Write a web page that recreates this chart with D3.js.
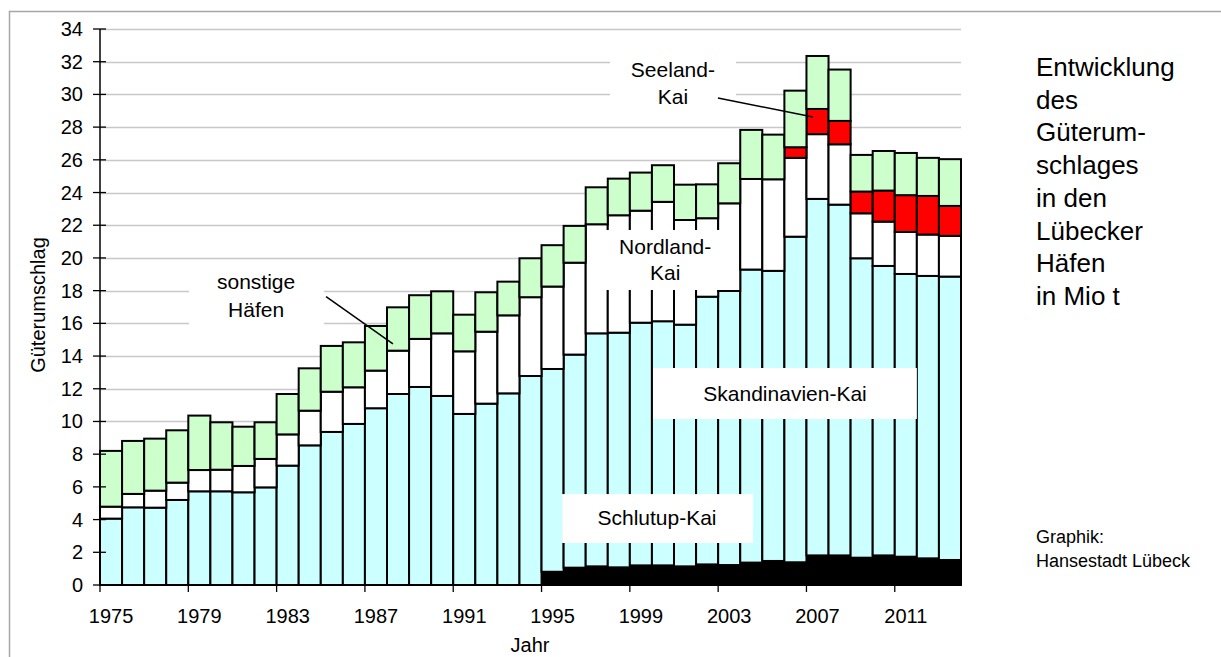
<!DOCTYPE html>
<html><head><meta charset="utf-8">
<script src="https://cdn.jsdelivr.net/npm/d3@7"></script>
<style>
html,body{margin:0;padding:0;background:#fff;}
svg{display:block;font-family:"Liberation Sans",Arial,sans-serif;}
</style></head>
<body>
<svg id="chart" width="1221" height="657"></svg>
<script>
// ---- data (Mio t) ----
const years = d3.range(1975, 2014);
const schlutup = [0,0,0,0,0,0,0,0,0,0,0,0,0,0,0,0,0,0,0,0,
  0.81,1.06,1.14,1.08,1.20,1.20,1.14,1.26,1.22,1.37,1.47,1.39,1.81,1.81,1.67,1.81,1.73,1.63,1.53];
const skandinavien = [4.06,4.75,4.73,5.20,5.73,5.73,5.67,5.97,7.30,8.54,9.36,9.85,10.81,11.68,12.11,11.56,10.46,11.09,11.72,12.78,
  12.40,13.03,14.25,14.35,14.84,14.93,14.78,16.37,16.76,17.92,17.74,19.91,21.80,21.45,18.31,17.70,17.29,17.27,17.33];
const nordland = [0.73,0.82,1.04,1.06,1.30,1.32,1.61,1.74,1.91,2.12,2.46,2.24,2.30,2.65,2.94,3.83,3.83,4.40,4.77,4.82,
  5.04,5.62,6.67,7.18,6.85,7.30,6.40,4.80,5.36,5.54,5.60,4.82,3.96,3.69,2.75,2.71,2.57,2.53,2.49];
const seeland = [0,0,0,0,0,0,0,0,0,0,0,0,0,0,0,0,0,0,0,0,
  0,0,0,0,0,0,0,0,0,0,0,0.65,1.54,1.43,1.33,1.90,2.25,2.36,1.83];
const sonstige = [3.41,3.24,3.18,3.20,3.33,2.90,2.40,2.24,2.47,2.59,2.80,2.75,2.73,2.65,2.67,2.57,2.24,2.41,2.06,2.38,
  2.53,2.25,2.26,2.24,2.33,2.24,2.16,2.07,2.45,3.00,2.73,3.46,3.24,3.14,2.24,2.42,2.58,2.33,2.86];
const seriesKeys = ["Schlutup","Skandinavien","Nordland","Seeland","sonstige"];
const seriesColors = ["#000000","#CCFFFF","#FFFFFF","#FF0000","#CCFFCC"];
const yTicks = d3.range(0, 35, 2);
const xTickYears = [1975,1979,1983,1987,1991,1995,1999,2003,2007,2011];
const titleLines = ["Entwicklung","des","Güterum-","schlages","in den","Lübecker","Häfen","in Mio t"];
const creditLines = ["Graphik:","Hansestadt Lübeck"];
// annotation labels in data units: box [x0,x1,yTop,yBottom], text lines, text centre, leader line
const annotations = [
  {box:[1979.03,1985.15,19.75,15.6], lines:["sonstige","Häfen"], cx:1982.07, cy:[18.53,16.82], leader:[1985.24,17.63,1988.27,14.74]},
  {box:[1998.1,2003.81,33.0,28.74], lines:["Seeland-","Kai"], cx:2000.95, cy:[31.55,29.9], leader:[2002.99,29.78,2007.3,28.62]},
  {box:[1997.06,2003.94,21.71,18.04], lines:["Nordland-","Kai"], cx:2000.6, cy:[20.73,19.08]},
  {box:[2000.05,2012.0,13.27,10.15], lines:["Skandinavien-Kai"], cx:2006.03, cy:[11.74]},
  {box:[1995.93,2004.58,5.56,2.57], lines:["Schlutup-Kai"], cx:2000.23, cy:[4.1]}
];

const rows = years.map((y,i)=>({year:y, Schlutup:schlutup[i], Skandinavien:skandinavien[i],
  Nordland:nordland[i], Seeland:seeland[i], sonstige:sonstige[i]}));

const svg = d3.select("#chart");
const L=100, R=961, T=29, B=585;
const x = d3.scaleBand().domain(years).range([L,R]).padding(0);
const xl = d3.scaleLinear().domain([1975,2014]).range([L,R]);
const y = d3.scaleLinear().domain([0,34]).range([B,T]);

// outer frame
svg.append("rect").attr("x",9.5).attr("y",11.5).attr("width",1240).attr("height",700)
  .attr("fill","none").attr("stroke","#A6A6A6").attr("stroke-width",1.5);

// gridlines
svg.append("g").selectAll("line").data(yTicks.filter(d=>d>0)).join("line")
  .attr("x1",L).attr("x2",R).attr("y1",d=>Math.round(y(d))+0.5).attr("y2",d=>Math.round(y(d))+0.5)
  .attr("stroke","#C8C8C8").attr("stroke-width",1.3);

// bars
const stack = d3.stack().keys(seriesKeys)(rows);
const gBars = svg.append("g");
stack.forEach((s,si)=>{
  gBars.append("g").selectAll("rect").data(s.filter(d=>d[1]-d[0]>0)).join("rect")
    .attr("x",d=>x(d.data.year)).attr("width",x.bandwidth())
    .attr("y",d=>y(d[1])).attr("height",d=>y(d[0])-y(d[1]))
    .attr("fill",seriesColors[si]).attr("stroke","#000").attr("stroke-width",2);
});

// annotation boxes, leaders and text
const gAnn = svg.append("g");
annotations.forEach(a=>{
  gAnn.append("rect").attr("x",xl(a.box[0])).attr("width",xl(a.box[1])-xl(a.box[0]))
    .attr("y",y(a.box[2])).attr("height",y(a.box[3])-y(a.box[2])).attr("fill","#fff");
  if(a.leader){
    gAnn.append("line").attr("x1",xl(a.leader[0])).attr("y1",y(a.leader[1]))
      .attr("x2",xl(a.leader[2])).attr("y2",y(a.leader[3])).attr("stroke","#000").attr("stroke-width",1.5);
  }
  a.lines.forEach((t,i)=>{
    gAnn.append("text").attr("x",xl(a.cx)).attr("y",y(a.cy[i])).attr("text-anchor","middle")
      .attr("dominant-baseline","central").attr("font-size",21).attr("fill","#000").text(t);
  });
});

// y axis
const yAxis = svg.append("g");
yAxis.append("line").attr("x1",L).attr("x2",L).attr("y1",T).attr("y2",B).attr("stroke","#000").attr("stroke-width",1.5);
yAxis.selectAll("line.t").data(yTicks).join("line").attr("class","t")
  .attr("x1",L-7).attr("x2",L+6).attr("y1",d=>y(d)).attr("y2",d=>y(d)).attr("stroke","#000").attr("stroke-width",1.3);
yAxis.selectAll("text").data(yTicks).join("text")
  .attr("x",83).attr("y",d=>y(d)).attr("text-anchor","end").attr("dominant-baseline","central")
  .attr("font-size",20).text(d=>d);

// x axis
const xAxis = svg.append("g");
xAxis.append("line").attr("x1",L).attr("x2",R).attr("y1",B).attr("y2",B).attr("stroke","#000").attr("stroke-width",1.5);
xAxis.selectAll("line.t").data(xTickYears).join("line").attr("class","t")
  .attr("x1",d=>x(d)).attr("x2",d=>x(d)).attr("y1",B).attr("y2",B+7).attr("stroke","#000").attr("stroke-width",1.3);
xAxis.selectAll("text").data(xTickYears).join("text")
  .attr("x",d=>x(d)+x.bandwidth()/2).attr("y",616).attr("text-anchor","middle").attr("dominant-baseline","central")
  .attr("font-size",20).text(d=>d);

// axis titles
svg.append("text").attr("x",530).attr("y",645).attr("text-anchor","middle").attr("dominant-baseline","central")
  .attr("font-size",20).text("Jahr");
svg.append("text").attr("transform","translate(38,305) rotate(-90)").attr("text-anchor","middle")
  .attr("dominant-baseline","central").attr("font-size",20).text("Güterumschlag");

// right side title
svg.append("g").selectAll("text").data(titleLines).join("text")
  .attr("x",1036).attr("y",(d,i)=>67+i*32.7).attr("dominant-baseline","central")
  .attr("font-size",26).text(d=>d);
svg.append("g").selectAll("text").data(creditLines).join("text")
  .attr("x",1036).attr("y",(d,i)=>537+i*24).attr("dominant-baseline","central")
  .attr("font-size",18).text(d=>d);
</script>
</body></html>
